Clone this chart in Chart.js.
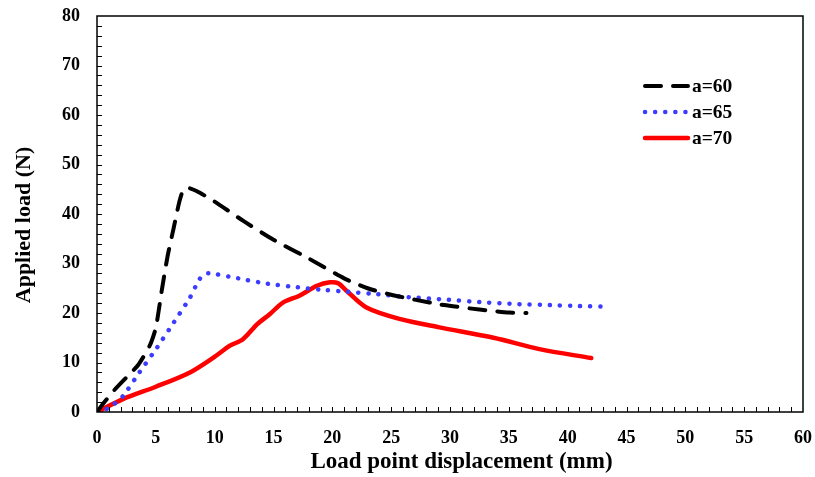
<!DOCTYPE html>
<html>
<head>
<meta charset="utf-8">
<script src="https://cdn.jsdelivr.net/npm/chart.js@4"></script>
<style>
  html, body { margin: 0; padding: 0; background: #fff; }
  #wrap { width: 815px; height: 477px; }
</style>
</head>
<body>
<div id="wrap"><canvas id="myChart" width="815" height="477"></canvas></div>
<script>
// a=60
const x60 = [0, 0.5, 1.5, 2.5, 3.5, 4.5, 5, 5.5, 6, 6.5, 7, 7.3, 7.7, 8.5, 10, 12.5, 15, 18, 21, 23, 25, 27, 29.5, 32.5, 35, 36.5];
const y60 = [0, 1.6, 4.5, 7, 9.5, 13.5, 17, 24.5, 31.5, 37, 42.5, 44.7, 45.3, 44.6, 42.5, 38.5, 34.8, 31, 27, 25, 23.7, 22.7, 21.6, 20.7, 20.1, 20];
// a=65
const x65 = [0, 1, 2.2, 3.6, 5.1, 6.5, 7.9, 8.7, 9.3, 10, 12, 14.5, 17, 19.5, 21.2, 23.8, 26.5, 29.7, 32.5, 35.7, 38.5, 41, 43.5];
const y65 = [0, 0.8, 3.2, 8, 13, 18, 23.1, 26.8, 28, 27.9, 27, 25.9, 25.2, 24.6, 24.3, 23.8, 23.2, 22.7, 22.2, 21.8, 21.6, 21.4, 21.3];
// a=70
const x70 = [0, 2.2, 5, 7.9, 9.9, 11.3, 12.4, 13.6, 14.7, 15.8, 17.2, 18.7, 19.8, 20.5, 21.2, 22.9, 25.7, 29.1, 33.7, 37.6, 42];
const y70 = [0, 2.6, 5.1, 8, 11, 13.4, 14.7, 17.7, 19.8, 22.1, 23.5, 25.5, 26.2, 26, 24.5, 21.1, 18.8, 17.1, 15, 12.7, 10.9];

const seriesLabels = ["a=60", "a=65", "a=70"];

function pts(xs, ys) {
  return xs.map((x, i) => ({ x: x, y: ys[i] }));
}

const font = "'Liberation Serif', 'Times New Roman', serif";

// inward minor ticks + box frame
const frame = {
  id: "frame",
  afterDraw(chart) {
    const ctx = chart.ctx;
    const a = chart.chartArea;
    const xs = chart.scales.x, ys = chart.scales.y;
    ctx.save();
    ctx.strokeStyle = "#000";
    ctx.lineWidth = 1.5;
    ctx.strokeRect(a.left, a.top, a.right - a.left, a.bottom - a.top);
    ctx.lineWidth = 1;
    ctx.beginPath();
    for (let v = 1; v < 60; v++) {
      const px = Math.round(xs.getPixelForValue(v)) + 0.5;
      ctx.moveTo(px, a.bottom);
      ctx.lineTo(px, a.bottom - 5);
    }
    for (let v = 2; v < 80; v += 2) {
      const py = Math.round(ys.getPixelForValue(v)) + 0.5;
      ctx.moveTo(a.left, py);
      ctx.lineTo(a.left + 5, py);
    }
    ctx.stroke();
    ctx.restore();
  }
};

// legend drawn by hand inside the plot
const legendBox = {
  id: "legendBox",
  afterDraw(chart) {
    const ctx = chart.ctx;
    const rows = [86, 112, 138];
    ctx.save();
    chart.data.datasets.forEach((ds, i) => {
      ctx.beginPath();
      ctx.strokeStyle = ds.borderColor;
      ctx.lineWidth = ds.borderWidth;
      ctx.lineCap = ds.borderCapStyle || "butt";
      ctx.setLineDash(ds.borderDash || []);
      ctx.moveTo(645, rows[i]);
      ctx.lineTo(688, rows[i]);
      ctx.stroke();
      ctx.setLineDash([]);
      ctx.fillStyle = "#000";
      ctx.font = "bold 19.5px " + font;
      ctx.textBaseline = "middle";
      ctx.fillText(ds.label, 692, rows[i] + 1);
    });
    ctx.restore();
  }
};

const data = {
  datasets: [
    {
      label: seriesLabels[0],
      data: pts(x60, y60),
      borderColor: "#000000",
      borderWidth: 4,
      borderDash: [16, 12],
      borderCapStyle: "round",
      pointRadius: 0,
      tension: 0.2,
    },
    {
      label: seriesLabels[1],
      data: pts(x65, y65),
      borderColor: "rgb(60, 60, 255)",
      borderWidth: 4.5,
      borderDash: [0.1, 10],
      borderCapStyle: "round",
      pointRadius: 0,
      tension: 0.2,
    },
    {
      label: seriesLabels[2],
      data: pts(x70, y70),
      borderColor: "#ff0000",
      borderWidth: 4.5,
      borderCapStyle: "round",
      pointRadius: 0,
      tension: 0.3,
    },
  ],
};

const config = {
  type: "line",
  data: data,
  options: {
    responsive: false,
    animation: false,
    layout: { padding: { top: 16, right: 12, left: 0, bottom: 0 } },
    plugins: { legend: { display: false }, tooltip: { enabled: false } },
    scales: {
      x: {
        type: "linear",
        min: 0,
        max: 60,
        ticks: { stepSize: 5, padding: 16, color: "#000", font: { family: font, size: 18, weight: "bold" } },
        grid: { display: false, drawTicks: false },
        border: { display: false },
        title: { display: true, text: "    Load point displacement (mm)", color: "#000", padding: { top: 0, bottom: 1 }, font: { family: font, size: 23, weight: "bold" } },
        afterFit(s) { s.height = 65; s.paddingLeft = 0; s.paddingRight = 0; },
      },
      y: {
        min: 0,
        max: 80,
        ticks: { stepSize: 10, padding: 17, color: "#000", font: { family: font, size: 18, weight: "bold" } },
        grid: { display: false, drawTicks: false },
        border: { display: false },
        title: { display: true, text: "Applied load (N)    ", color: "#000", padding: { top: 11, bottom: 0 }, font: { family: font, size: 22, weight: "bold" } },
        afterFit(s) { s.width = 97; s.paddingTop = 0; s.paddingBottom = 0; },
      },
    },
  },
  plugins: [frame, legendBox],
};

let myChart = new Chart(document.getElementById("myChart"), config);
</script>
</body>
</html>
